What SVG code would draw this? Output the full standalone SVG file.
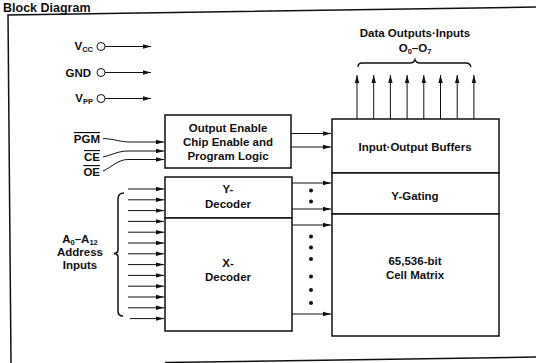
<svg xmlns="http://www.w3.org/2000/svg" width="536" height="363" viewBox="0 0 536 363">
<style>
.t{font-family:"Liberation Sans",Arial,sans-serif;font-weight:bold;font-size:11.5px;fill:#111;text-anchor:middle}
.s{font-size:7.5px}
.box{fill:#fff;stroke:#111;stroke-width:1.5}
.ln{fill:none;stroke:#111;stroke-width:1}
.ar{marker-end:url(#ah)}
.dot{fill:#111}
</style>
<defs>
<marker id="ah" markerWidth="8" markerHeight="6" refX="8" refY="3" orient="auto" markerUnits="userSpaceOnUse"><path d="M0,0.8 L8,3 L0,5.2z" fill="#111"/></marker>
</defs>
<text x="3" y="11.5" style="font-family:'Liberation Sans',Arial,sans-serif;font-weight:bold;font-size:12.5px;fill:#111">Block Diagram</text>
<g id="frame" class="ln" style="stroke-width:1.5">
<polyline points="536,7 8,15 11,363"/>
<line x1="165" y1="362.5" x2="536" y2="357"/>
</g>
<g id="pins">
<text class="t" x="93" y="50" style="text-anchor:end">V<tspan class="s" dy="1.5">CC</tspan></text>
<text class="t" x="91" y="76.5" style="text-anchor:end">GND</text>
<text class="t" x="93" y="102" style="text-anchor:end">V<tspan class="s" dy="1.5">PP</tspan></text>
<circle cx="101" cy="46.5" r="4" class="ln"/>
<circle cx="101" cy="72.5" r="4" class="ln"/>
<circle cx="101" cy="98.5" r="4" class="ln"/>
</g>
<g id="oe-logic">
<rect class="box" x="165" y="115" width="126" height="53"/>
<text class="t" x="228" y="132">Output Enable</text>
<text class="t" x="228" y="146">Chip Enable and</text>
<text class="t" x="228" y="160">Program Logic</text>
</g>
<g id="ctrl-labels">
<text class="t" x="100" y="143" style="text-anchor:end;text-decoration:overline">PGM</text>
<text class="t" x="100" y="161" style="text-anchor:end;text-decoration:overline">CE</text>
<text class="t" x="100" y="176" style="text-anchor:end;text-decoration:overline">OE</text>
</g>
<g id="y-decoder">
<rect class="box" x="165" y="177" width="127" height="41"/>
<text class="t" x="228" y="193">Y-</text>
<text class="t" x="228" y="208">Decoder</text>
</g>
<g id="x-decoder">
<rect class="box" x="165" y="218" width="127" height="113"/>
<text class="t" x="228" y="267">X-</text>
<text class="t" x="228" y="281">Decoder</text>
</g>
<g id="io-buffers">
<rect class="box" x="332" y="119" width="167" height="54"/>
<text class="t" x="415" y="151">Input·Output Buffers</text>
</g>
<g id="y-gating">
<rect class="box" x="332" y="173" width="167" height="41"/>
<text class="t" x="415" y="200">Y-Gating</text>
</g>
<g id="cell-matrix">
<rect class="box" x="332" y="214" width="167" height="122"/>
<text class="t" x="415" y="265">65,536-bit</text>
<text class="t" x="415" y="279">Cell Matrix</text>
</g>
<g id="data-label">
<text class="t" x="415" y="37">Data Outputs·Inputs</text>
<text class="t" x="415" y="52">O<tspan class="s" dy="1.5">0</tspan><tspan dy="-1.5">–O</tspan><tspan class="s" dy="1.5">7</tspan></text>
</g>
<g id="addr-label">
<text class="t" x="80" y="243">A<tspan class="s" dy="1.5">0</tspan><tspan dy="-1.5">–A</tspan><tspan class="s" dy="1.5">12</tspan></text>
<text class="t" x="80" y="256">Address</text>
<text class="t" x="80" y="269">Inputs</text>
</g>
<g id="connectors" class="ln">
<line class="ar" x1="105" y1="46.5" x2="151" y2="46.5"/>
<line class="ar" x1="105" y1="72.5" x2="151" y2="72.5"/>
<line class="ar" x1="105" y1="98.5" x2="151" y2="98.5"/>
<path class="ar" d="M103,138.5 C115,139 120,142 130,142 L164,142"/>
<path class="ar" d="M103,157 C112,155 118,151 128,151 L164,151"/>
<path class="ar" d="M103,171 C112,167 118,159.5 128,159.5 L164,159.5"/>
<line class="ar" x1="291" y1="133.5" x2="331" y2="133.5"/>
<line class="ar" x1="291" y1="147" x2="331" y2="147"/>
<line class="ar" x1="292" y1="183" x2="331" y2="183"/>
<line class="ar" x1="292" y1="209" x2="331" y2="209"/>
<line class="ar" x1="292" y1="225" x2="331" y2="225"/>
<line class="ar" x1="292" y1="314" x2="331" y2="314"/>
<line class="ar" x1="357" y1="119" x2="357" y2="75"/>
<line class="ar" x1="373.7" y1="119" x2="373.7" y2="75"/>
<line class="ar" x1="390.4" y1="119" x2="390.4" y2="75"/>
<line class="ar" x1="407.1" y1="119" x2="407.1" y2="75"/>
<line class="ar" x1="423.8" y1="119" x2="423.8" y2="75"/>
<line class="ar" x1="440.5" y1="119" x2="440.5" y2="75"/>
<line class="ar" x1="457.2" y1="119" x2="457.2" y2="75"/>
<line class="ar" x1="473.9" y1="119" x2="473.9" y2="75"/>
<path d="M358,67 Q358,63 362,63 L410,63 Q414,63 415,59.5 Q416,63 420,63 L466,63 Q470,63 471,67" style="stroke-width:1.3"/>
<line class="ar" x1="128" y1="189" x2="164" y2="189"/>
<line class="ar" x1="128" y1="199.8" x2="164" y2="199.8"/>
<line class="ar" x1="128" y1="210.6" x2="164" y2="210.6"/>
<line class="ar" x1="128" y1="221.4" x2="164" y2="221.4"/>
<line class="ar" x1="128" y1="232.2" x2="164" y2="232.2"/>
<line class="ar" x1="128" y1="243" x2="164" y2="243"/>
<line class="ar" x1="128" y1="253.8" x2="164" y2="253.8"/>
<line class="ar" x1="128" y1="264.6" x2="164" y2="264.6"/>
<line class="ar" x1="128" y1="275.4" x2="164" y2="275.4"/>
<line class="ar" x1="128" y1="286.2" x2="164" y2="286.2"/>
<line class="ar" x1="128" y1="297" x2="164" y2="297"/>
<line class="ar" x1="128" y1="307.8" x2="164" y2="307.8"/>
<line class="ar" x1="130" y1="318.6" x2="164" y2="318.6"/>
<path d="M124,193 Q118,193 118,199 L118,250 Q118,253 114,253.5 Q118,254 118,257 L118,311 Q118,316 123,316" style="stroke-width:1.5"/>
</g>
<g id="dots">
<circle class="dot" cx="311" cy="190.5" r="2"/>
<circle class="dot" cx="311" cy="201.5" r="2"/>
<circle class="dot" cx="311" cy="236.5" r="2"/>
<circle class="dot" cx="311" cy="247.5" r="2"/>
<circle class="dot" cx="311" cy="259" r="2"/>
<circle class="dot" cx="311" cy="276.5" r="2"/>
<circle class="dot" cx="311" cy="290" r="2"/>
<circle class="dot" cx="311" cy="303" r="2"/>
</g>
</svg>
